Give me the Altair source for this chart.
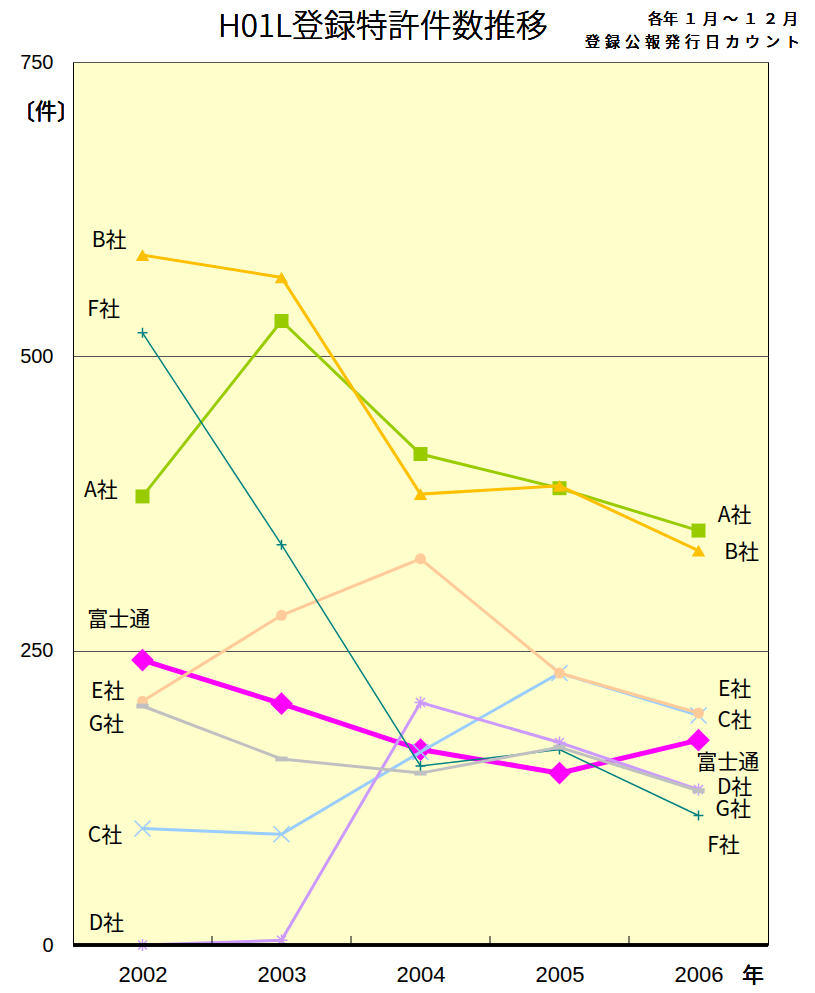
import altair as alt
import pandas as pd

years = [2002, 2003, 2004, 2005, 2006]
series_names = ["富士通", "A社", "B社", "C社", "D社", "E社", "F社", "G社"]
values_fujitsu = [242, 205, 166, 146, 174]
values_a = [381, 530, 417, 388, 352]
values_b = [586, 567, 383, 390, 335]
values_c = [99, 94, 164, 231, 195]
values_d = [0, 4, 206, 172, 132]
values_e = [207, 280, 328, 231, 197]
values_f = [520, 340, 152, 166, 110]
values_g = [203, 158, 146, 168, 131]
all_values = [values_fujitsu, values_a, values_b, values_c, values_d,
              values_e, values_f, values_g]

# annotation labels (name, x in year units, y in 件)
label_names = ["B社", "F社", "A社", "富士通", "E社", "G社", "C社", "D社",
               "A社", "B社", "E社", "C社", "富士通", "D社", "G社", "F社"]
label_x = [2001.76, 2001.72, 2001.70, 2001.83, 2001.75, 2001.74, 2001.73, 2001.74,
           2006.26, 2006.31, 2006.26, 2006.26, 2006.21, 2006.26, 2006.25, 2006.18]
label_y = [598, 539, 386, 276, 215, 187, 93, 18,
           364, 333, 217, 190, 155, 133, 115, 84]

y_ticks = [0, 250, 500, 750]
inner_ticks = [2002.5, 2003.5, 2004.5, 2005.5]

rows = []
for name, vals in zip(series_names, all_values):
    for yr, v in zip(years, vals):
        rows.append({"series": name, "year": yr, "value": v})
df = pd.DataFrame(rows)
labels_df = pd.DataFrame({"name": label_names, "x": label_x, "y": label_y})
ticks_df = pd.DataFrame({"t": inner_ticks})

W, H = 695, 883
JP = "Noto Sans CJK JP"
LAT = "Liberation Sans"

xscale = alt.Scale(domain=[2001.5, 2006.5], nice=False, zero=False)
yscale = alt.Scale(domain=[0, 750], nice=False)

xaxis = alt.Axis(values=years, format="d", ticks=False, domain=False, grid=False,
                 labelFont=LAT, labelFontSize=22, labelColor="black",
                 labelPadding=19, title=None)
yaxis = alt.Axis(values=y_ticks, ticks=False, domain=False, grid=True,
                 gridColor="#555555", gridWidth=1,
                 labelFont=LAT, labelFontSize=20, labelColor="black",
                 labelPadding=20, title=None)

XE = alt.X("year:Q", scale=xscale, axis=xaxis)
YE = alt.Y("value:Q", scale=yscale, axis=yaxis)

base = alt.Chart(df)

styles = {
    "富士通": dict(color="#FF00FF", width=5, shape="diamond", size=520, filled=True, sw=1),
    "A社": dict(color="#99CC00", width=3, shape="square", size=196, filled=True, sw=1),
    "B社": dict(color="#FFC000", width=3, shape="triangle-up", size=180, filled=True, sw=1),
    "C社": dict(color="#99CCFF", width=3, shape="M-1,-1L1,1M-1,1L1,-1", size=256, filled=False, sw=1.5),
    "D社": dict(color="#CC99FF", width=3, shape="M-1,0L1,0M0,-1L0,1M-0.75,-0.75L0.75,0.75M-0.75,0.75L0.75,-0.75", size=144, filled=False, sw=1.5),
    "E社": dict(color="#FFCC99", width=3, shape="circle", size=121, filled=True, sw=1),
    "F社": dict(color="#008080", width=1.5, shape="M-1,0L1,0M0,-1L0,1", size=100, filled=False, sw=1.5),
    "G社": dict(color="#C0C0C0", width=3, shape="M-1,-0.4L1,-0.4L1,0.4L-1,0.4Z", size=150, filled=True, sw=1),
}

layers = []
for name in series_names:
    s = styles[name]
    sub = base.transform_filter(alt.datum.series == name)
    layers.append(sub.mark_line(color=s["color"], strokeWidth=s["width"]).encode(x=XE, y=YE))
    if s["filled"]:
        pt = sub.mark_point(shape=s["shape"], size=s["size"], filled=True,
                            color=s["color"], opacity=1)
    else:
        pt = sub.mark_point(shape=s["shape"], size=s["size"], filled=False,
                            color=s["color"], strokeWidth=s["sw"], opacity=1)
    layers.append(pt.encode(x=XE, y=YE))

labels = alt.Chart(labels_df).mark_text(font=JP, fontSize=21, fontWeight=400, color="black",
                                        align="center", baseline="middle").encode(
    x=alt.X("x:Q", scale=xscale, axis=xaxis), y=alt.Y("y:Q", scale=yscale, axis=yaxis),
    text="name:N")

tick_marks = alt.Chart(ticks_df).mark_rule(color="black", strokeWidth=1).encode(
    x=alt.X("t:Q", scale=xscale, axis=xaxis), y=alt.value(H), y2=alt.value(H - 9))

bottom_line = alt.Chart(ticks_df).mark_rule(color="black", strokeWidth=3).encode(
    x=alt.value(0), x2=alt.value(W), y=alt.value(H))

title = alt.Chart(ticks_df).mark_text(text="H01L登録特許件数推移", font=JP, fontSize=32,
                                      fontWeight=300, color="black", align="left",
                                      baseline="middle").encode(
    x=alt.value(145), y=alt.value(-35))
sub1 = alt.Chart(ticks_df).mark_text(text="各年\u2004１\u2004月\u2004～\u2004１\u2004２\u2004月", font=JP,
                                     fontSize=15, fontWeight=400, color="black", align="right",
                                     baseline="middle").encode(x=alt.value(725), y=alt.value(-43))
sub2 = alt.Chart(ticks_df).mark_text(text="登\u2004録\u2004公\u2004報\u2004発\u2004行\u2004日\u2004カ\u2004ウ\u2004ン\u2004ト",
                                     font=JP, fontSize=15, fontWeight=400, color="black", align="right",
                                     baseline="middle").encode(x=alt.value(727), y=alt.value(-20))
unit = alt.Chart(ticks_df).mark_text(text="〔件〕", font=JP, fontSize=22, fontWeight=400, color="black",
                                     align="center", baseline="middle").encode(
    x=alt.value(-27), y=alt.value(50))
nen = alt.Chart(ticks_df).mark_text(text="年", font=JP, fontSize=22, fontWeight=400, color="black",
                                    align="left", baseline="middle").encode(
    x=alt.value(669), y=alt.value(H + 31))

chart = alt.layer(*layers, tick_marks, bottom_line, labels, title, sub1, sub2, unit, nen).properties(
    width=W, height=H,
    autosize=alt.AutoSizeParams(type="none"),
    padding={"left": 65, "top": 54, "right": 39, "bottom": 40},
).configure_view(fill="#FFFFCC", stroke="black", strokeWidth=1
).configure_axisY(labelFont=LAT, labelFontSize=20, labelColor="black")

chart.save("out.html", embed_options={"renderer": "svg", "actions": False})
